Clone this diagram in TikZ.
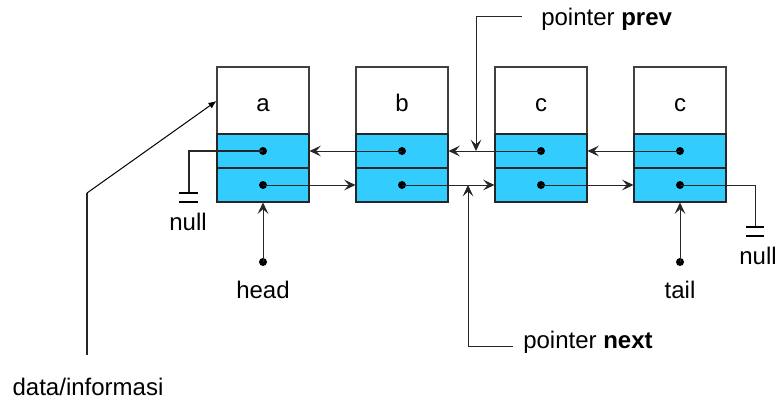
\documentclass[tikz,border=0pt]{standalone}
\usepackage{fontspec}
\setmainfont{Liberation Sans}
\usetikzlibrary{arrows.meta}
\definecolor{cellblue}{HTML}{33CCFF}
\begin{document}
\begin{tikzpicture}[x=0.75pt,y=-0.75pt,
  lbl/.style={font=\fontsize{18}{21}\selectfont, inner sep=0pt},
  datacell/.style={draw=black!75, line width=0.8pt, fill=white, minimum width=69pt, minimum height=50.25pt, inner sep=0pt, text height=17pt, text depth=0pt, font=\fontsize{18}{21}\selectfont},
  ptrcell/.style={draw=black!85, line width=0.8pt, fill=cellblue, minimum width=69pt, minimum height=25.5pt, inner sep=0pt},
  dot/.style={circle, fill=black, minimum size=6pt, inner sep=0pt},
  ptr/.style={draw=black!85, line width=0.75pt, -{Stealth[length=8.5pt,width=8pt,inset=3.5pt]}},
  wire/.style={draw=black!85, line width=0.75pt},
  gnd/.style={draw=black, line width=1.5pt},
  small/.style={draw=black, line width=0.75pt, -{Latex[length=6pt,width=5pt]}}
]
\useasboundingbox (0,0) rectangle (777,404);

% nodes
\foreach \n/\x/\t in {a/263/a, b/402/b, c/541/c, d/680/c}{
  \node[datacell] (\n) at (\x,100.5) {\t};
  \node[ptrcell] (\n p) at (\x,151) {};
  \node[ptrcell] (\n n) at (\x,185) {};
  \node[dot] (\n pd) at (\x,151) {};
  \node[dot] (\n nd) at (\x,185) {};
}

% prev links
\draw[ptr] (bpd.center) -- (ap.east);
\draw[ptr] (cpd.center) -- (bp.east);
\draw[ptr] (dpd.center) -- (cp.east);
% next links
\draw[ptr] (and.center) -- (bn.west);
\draw[ptr] (bnd.center) -- (cn.west);
\draw[ptr] (cnd.center) -- (dn.west);

% null left
\coordinate (nl) at (189,193);
\draw[wire, line width=1pt] (apd.center) -| (nl);
\draw[gnd] (179,193) -- (198,193);
\draw[gnd] (179,202) -- (198,202);
\node[lbl] (nulll) at (188,222) {null};

% null right
\coordinate (nr) at (755,227);
\draw[wire] (dnd.center) -| (nr);
\draw[gnd] (746,227) -- (764,227);
\draw[gnd] (746,236) -- (764,236);
\node[lbl] (nullr) at (758,256) {null};

% head / tail
\node[dot] (hd) at (263,262) {};
\node[lbl] (head) at (263,290) {head};
\draw[ptr] (hd.center) -- (an.south);
\node[dot] (td) at (680,262) {};
\node[lbl] (tail) at (680,290) {tail};
\draw[ptr] (td.center) -- (dn.south);

% pointer prev
\node[lbl, anchor=west] (pprev) at (541,19) {pointer \textbf{prev}};
\coordinate (pp1) at (522,16);
\coordinate (pphit) at (476,151);
\draw[ptr] (pp1) -| (pphit);

% pointer next
\node[lbl, anchor=west] (pnext) at (523,342) {pointer \textbf{next}};
\coordinate (pn1) at (513,346);
\coordinate (pnhit) at (468,185);
\draw[ptr] (pn1) -| (pnhit);

% data/informasi
\node[lbl] (info) at (88,387) {data/informasi};
\coordinate (i1) at (87,355);
\coordinate (i2) at (87,193);
\coordinate (ihit) at (a.west |- 0,101);
\draw[wire, line width=1.1pt] (i1) -- (i2);
\draw[small] (i2) -- (ihit);
\end{tikzpicture}
\end{document}
